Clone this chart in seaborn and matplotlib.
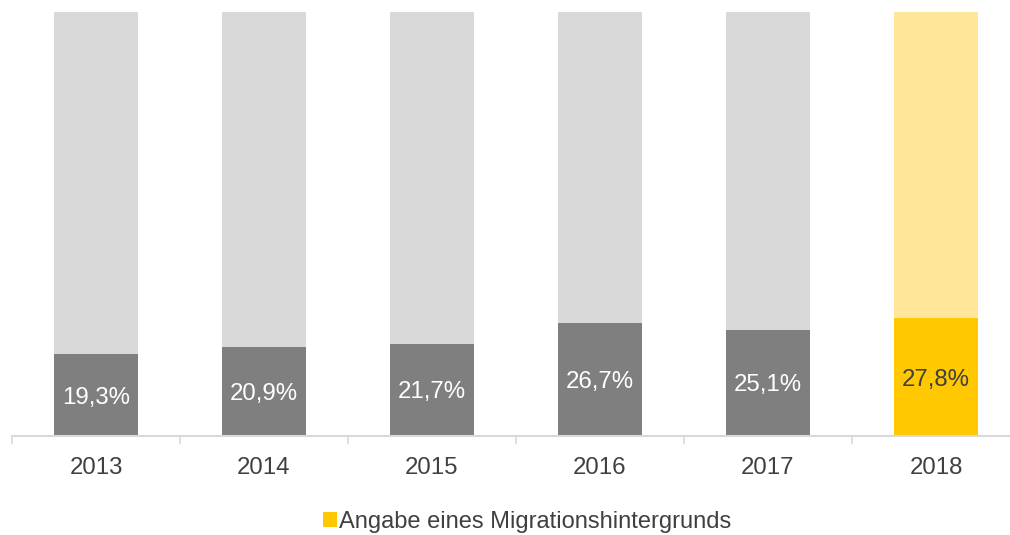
import numpy as np
import pandas as pd
import matplotlib
matplotlib.use("Agg")
import matplotlib.pyplot as plt
import seaborn as sns
from matplotlib.patches import Patch

years = ["2013", "2014", "2015", "2016", "2017", "2018"]
values = [19.3, 20.9, 21.7, 26.7, 25.1, 27.8]
labels = ["19,3%", "20,9%", "21,7%", "26,7%", "25,1%", "27,8%"]

grey_dark = "#7F7F7F"
grey_light = "#D9D9D9"
yellow = "#FFC800"
yellow_light = "#FFE699"

sns.set_theme(style="white")
plt.rcParams["font.family"] = ["Liberation Sans", "DejaVu Sans"]

df = pd.DataFrame({"Jahr": years, "Wert": values, "Gesamt": [100] * len(years)})

fig = plt.figure(figsize=(10.1, 5.35), dpi=100)
ax = fig.add_axes([12 / 1010, 99 / 535, 1008 / 1010, 424 / 535])

back_cols = [grey_light] * 5 + [yellow_light]
front_cols = [grey_dark] * 5 + [yellow]
sns.barplot(data=df, x="Jahr", y="Gesamt", hue="Jahr", palette=back_cols,
            width=0.5, legend=False, ax=ax, saturation=1, linewidth=0)
sns.barplot(data=df, x="Jahr", y="Wert", hue="Jahr", palette=front_cols,
            width=0.5, legend=False, ax=ax, saturation=1, linewidth=0)

# Werte mittig im Segment
for i, (v, lab) in enumerate(zip(values, labels)):
    col = "#404040" if i == 5 else "white"
    ax.text(i, v / 2, lab, ha="center", va="center_baseline", fontsize=17.3, color=col)

ax.set_xlim(-0.5, 5.5)
ax.set_ylim(0, 100)
ax.set_yticks([])
ax.set_xlabel("")
ax.set_ylabel("")
for s in ["top", "right", "left"]:
    ax.spines[s].set_visible(False)
ax.spines["bottom"].set_color(grey_light)
ax.spines["bottom"].set_linewidth(1.5)
ax.set_xticks(np.arange(-0.5, 6.0, 1.0), minor=True)
ax.tick_params(axis="x", which="minor", bottom=True, length=6, width=1.2, color=grey_light)
ax.tick_params(axis="x", which="major", bottom=False, labelsize=17.3, labelcolor="#404040", pad=9)

handles = [Patch(facecolor=yellow, edgecolor="none", label="Angabe eines Migrationshintergrunds")]
fig.legend(handles=handles, loc="center", bbox_to_anchor=(527 / 1010, (535 - 522) / 535),
           frameon=False, fontsize=17, handlelength=0.6, handleheight=0.6, handletextpad=0.1,
           labelcolor="#404040")

fig.savefig("out.png", dpi=100)
